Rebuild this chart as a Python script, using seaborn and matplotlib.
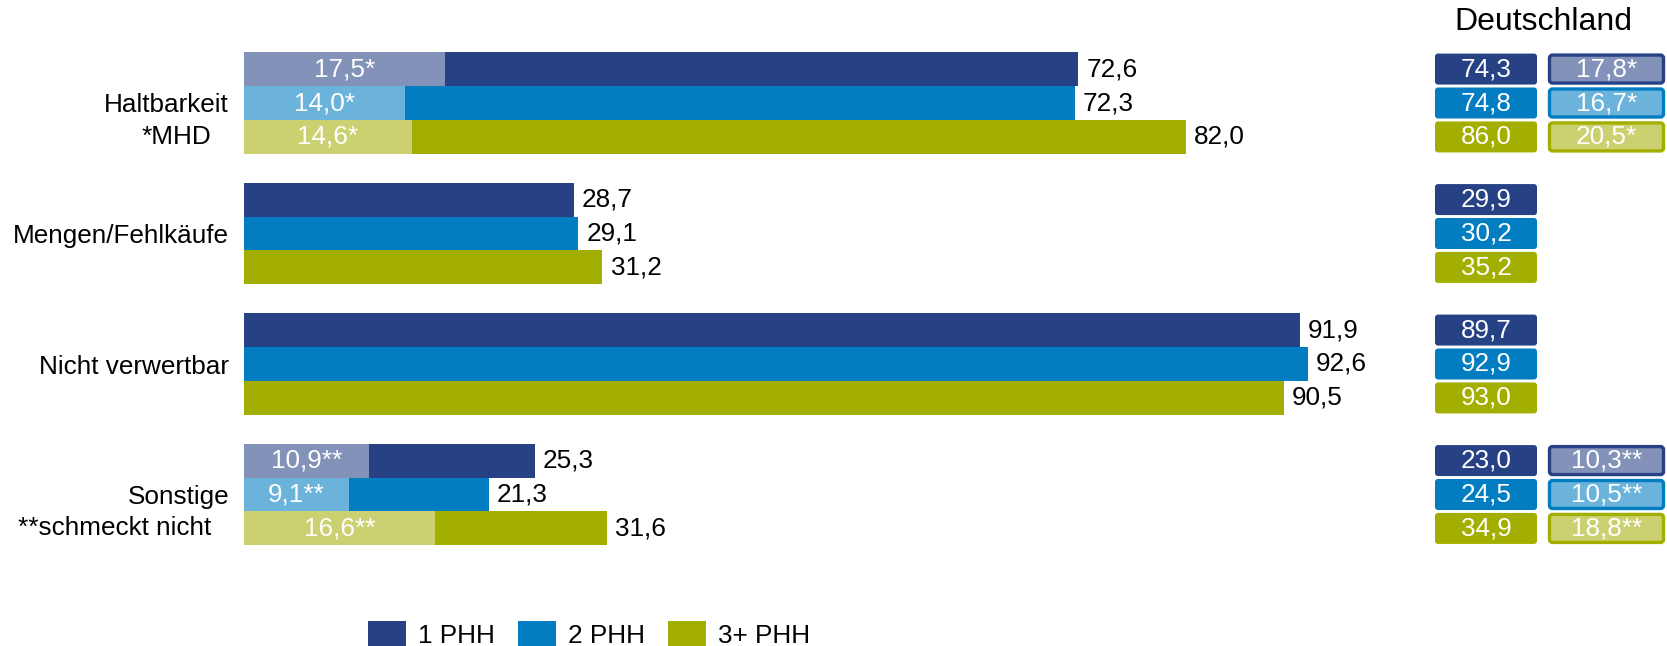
import numpy as np
import pandas as pd
import seaborn as sns
import matplotlib.pyplot as plt
from matplotlib.patches import FancyBboxPatch, Patch

# -------------------------------------------------
# DATA
# -------------------------------------------------

categories = ["Haltbarkeit", "Mengen/Fehlkäufe", "Nicht verwertbar", "Sonstige"]
sub_labels = ["*MHD", "", "", "**schmeckt nicht"]
star_suffix = ["*", "", "", "**"]
groups = ["1 PHH", "2 PHH", "3+ PHH"]

total_1phh = [72.6, 28.7, 91.9, 25.3]
total_2phh = [72.3, 29.1, 92.6, 21.3]
total_3phh = [82.0, 31.2, 90.5, 31.6]

sub_1phh = [17.5, np.nan, np.nan, 10.9]
sub_2phh = [14.0, np.nan, np.nan, 9.1]
sub_3phh = [14.6, np.nan, np.nan, 16.6]

de_total_1phh = [74.3, 29.9, 89.7, 23.0]
de_total_2phh = [74.8, 30.2, 92.9, 24.5]
de_total_3phh = [86.0, 35.2, 93.0, 34.9]

de_sub_1phh = [17.8, np.nan, np.nan, 10.3]
de_sub_2phh = [16.7, np.nan, np.nan, 10.5]
de_sub_3phh = [20.5, np.nan, np.nan, 18.8]

dark_colors = ["#274185", "#027DC2", "#A3AF00"]
light_colors = ["#8392B8", "#6CB3DC", "#CBD170"]


def fmt(v):
    return f"{v:.1f}".replace(".", ",")


def long_df(a, b, c):
    rows = []
    for g, vals in zip(groups, [a, b, c]):
        for cat, v in zip(categories, vals):
            rows.append({"cat": cat, "group": g, "value": v})
    return pd.DataFrame(rows)


df_total = long_df(total_1phh, total_2phh, total_3phh)
df_sub = long_df(sub_1phh, sub_2phh, sub_3phh).dropna()
de_total = [de_total_1phh, de_total_2phh, de_total_3phh]
de_sub = [de_sub_1phh, de_sub_2phh, de_sub_3phh]

# -------------------------------------------------
# FIGURE
# -------------------------------------------------

sns.set_style("white")
plt.rcParams["font.family"] = ["Liberation Sans", "DejaVu Sans"]
plt.rcParams["text.color"] = "black"
plt.rcParams["ytick.labelcolor"] = "black"
FS = 18.8

W, H = 1667, 646
fig = plt.figure(figsize=(W / 100, H / 100), dpi=100)

ax_top, ax_bot = 37.75, 559.75
ax = fig.add_axes([244 / W, 1 - ax_bot / H, 1149 / W, (ax_bot - ax_top) / H])

sns.barplot(data=df_total, y="cat", x="value", hue="group", order=categories,
            hue_order=groups, palette=dark_colors, orient="h", width=0.78,
            saturation=1, linewidth=0, legend=False, ax=ax)
n_main = len(ax.containers)

sns.barplot(data=df_sub, y="cat", x="value", hue="group", order=categories,
            hue_order=groups, palette=light_colors, orient="h", width=0.78,
            saturation=1, linewidth=0, legend=False, ax=ax)

ax.set_xlim(0, 100)
ax.set_ylim(3.5, -0.5)
ax.set_xlabel("")
ax.set_ylabel("")
ax.set_xticks([])
sns.despine(ax=ax, left=True, bottom=True)
ax.tick_params(axis="y", length=0, pad=10.8, labelsize=FS, labelcolor="black")

# value labels behind the bars
for cont in ax.containers[:n_main]:
    for bar in cont:
        w = bar.get_width()
        ax.text(w + 0.7, bar.get_y() + bar.get_height() / 2, fmt(w),
                va="center", ha="left", fontsize=FS, color="black")

# white labels in the light part
for cont in ax.containers[n_main:]:
    for bar in cont:
        w = bar.get_width()
        if np.isnan(w):
            continue
        i = int(round(bar.get_y() + bar.get_height() / 2))
        ax.text(w / 2, bar.get_y() + bar.get_height() / 2,
                fmt(w) + star_suffix[i], va="center", ha="center",
                fontsize=FS, color="white")

# second line of the category labels
for i, lab in enumerate(sub_labels):
    if lab:
        ax.annotate(lab, xy=(0, i + 0.26), xycoords=("axes fraction", "data"),
                    xytext=(-33 * 0.72, 0), textcoords="offset points",
                    ha="right", va="center", fontsize=FS, color="black")

# -------------------------------------------------
# DEUTSCHLAND PANEL
# -------------------------------------------------

ax2 = fig.add_axes([1430 / W, 1 - ax_bot / H, 237 / W, (ax_bot - ax_top) / H])
ax2.set_xlim(0, 237)
ax2.set_ylim(3.5, -0.5)
ax2.axis("off")

aspect = 4.0 / (ax_bot - ax_top)
box_h = 31 * aspect
col1 = (5, 102)
col2 = (119.5, 114)

for j in range(3):
    for i, cat in enumerate(categories):
        bar = ax.containers[j][i]
        yc = bar.get_y() + bar.get_height() / 2
        ax2.add_patch(FancyBboxPatch((col1[0], yc - box_h / 2), col1[1], box_h,
                                     boxstyle="round,pad=0,rounding_size=3",
                                     mutation_aspect=aspect,
                                     facecolor=dark_colors[j], edgecolor="none"))
        ax2.text(col1[0] + col1[1] / 2, yc, fmt(de_total[j][i]), ha="center",
                 va="center", fontsize=FS, color="white")
        v = de_sub[j][i]
        if not np.isnan(v):
            ax2.add_patch(FancyBboxPatch((col2[0], yc - box_h / 2 + 1.5 * aspect),
                                         col2[1], box_h - 3 * aspect,
                                         boxstyle="round,pad=0,rounding_size=3",
                                         mutation_aspect=aspect,
                                         facecolor=light_colors[j],
                                         edgecolor=dark_colors[j], linewidth=2.4))
            ax2.text(col2[0] + col2[1] / 2, yc, fmt(v) + star_suffix[i],
                     ha="center", va="center", fontsize=FS, color="white")

fig.text(1543 / W, 1 - 30 / H, "Deutschland", ha="center", va="baseline",
         fontsize=23, color="black")

# -------------------------------------------------
# LEGEND
# -------------------------------------------------

handles = [Patch(facecolor=c, edgecolor="none") for c in dark_colors]
fig.legend(handles, groups, loc="upper left", bbox_to_anchor=(368 / W, 1 - 621 / H),
           ncol=3, frameon=False, fontsize=FS, handlelength=1.45,
           handleheight=1.2, handletextpad=0.47, columnspacing=0.88,
           borderpad=0, borderaxespad=0)

fig.savefig("out.png", dpi=100)
